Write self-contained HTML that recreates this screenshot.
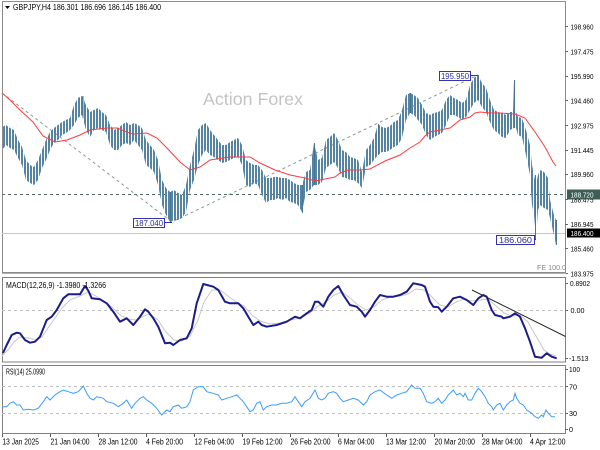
<!DOCTYPE html>
<html><head><meta charset="utf-8"><style>
html,body{margin:0;padding:0;background:#fff;}
svg{display:block;}
text{font-family:"Liberation Sans",sans-serif;}
</style></head><body>
<svg width="600" height="450" viewBox="0 0 600 450" xmlns="http://www.w3.org/2000/svg">
<defs>
<pattern id="bars" width="3" height="4" patternUnits="userSpaceOnUse">
<rect x="0" y="0" width="2" height="4" fill="#5583a2"/>
</pattern>
</defs>
<rect width="600" height="450" fill="#fff"/>

<!-- main panel -->
<rect x="2.5" y="1.5" width="563" height="271" fill="#fff" stroke="#8c8c8c"/>
<text x="203" y="105" font-size="17.5" fill="#c4c4c4" textLength="100" lengthAdjust="spacingAndGlyphs">Action Forex</text>

<!-- zigzag dashed -->
<polyline points="2,93 172,222 478,75" fill="none" stroke="#8a9a92" stroke-width="1" stroke-dasharray="3,3"/>
<!-- level lines -->
<line x1="2" y1="194.5" x2="565" y2="194.5" stroke="#4f6a5f" stroke-dasharray="3,3"/>
<line x1="2" y1="233.5" x2="565" y2="233.5" stroke="#c8c8c8"/>

<!-- price bars -->
<polygon fill="url(#bars)" points="2,127 6,125 10,128 14,130 18,140 22,147 26,160 30,165 34,167 38,160 42,150 46,140 50,132 54,128 58,125 62,122 66,120 70,118 74,105 78,98 82,96 86,105 90,112 94,110 98,108 102,112 106,115 110,125 114,130 118,128 122,125 126,122 130,125 134,123 138,125 142,128 146,140 150,145 154,150 158,160 162,180 166,188 170,192 174,190 178,193 182,195 186,185 190,165 194,150 198,130 202,125 206,123 210,130 214,135 218,140 222,145 226,145 230,142 234,140 238,138 242,145 246,160 250,163 254,165 258,165 262,170 266,178 270,178 274,177 278,177 282,178 286,178 290,180 294,183 298,185 302,185 306,172 310,170 314,143 318,160 322,158 326,140 330,137 334,133 338,140 342,150 346,152 350,157 354,158 358,160 362,172 366,150 370,145 374,138 378,124 382,127 386,128 390,126 394,122 398,120 402,110 406,95 410,93 414,95 418,98 422,105 426,113 430,115 434,113 438,112 442,110 446,100 450,95 454,98 458,100 462,103 466,100 470,85 474,78 478,75 482,83 486,88 490,100 494,110 498,112 502,113 506,115 510,112 513,112 514,80 516,112 518,117 522,118 526,130 530,145 532,165 534,175 536,185 538,175 540,170 544,172 548,178 550,200 554,215 556,220 558,225 558,240 556,245 554,235 550,218 548,210 544,208 540,205 538,210 536,238 534,215 532,205 530,175 526,155 522,137 518,135 516,128 514,128 510,130 506,138 502,137 498,133 494,130 490,122 486,112 482,107 478,100 474,103 470,110 466,117 462,120 458,117 454,115 450,115 446,125 442,133 438,135 434,137 430,140 426,135 422,125 418,120 414,115 410,113 406,120 402,138 398,145 394,147 390,150 386,152 382,152 378,155 374,160 370,165 366,167 362,188 358,183 354,180 350,180 346,178 342,177 338,168 334,162 330,165 326,168 322,182 318,185 314,185 310,190 306,192 302,212 298,205 294,203 290,202 286,198 282,200 278,198 274,200 270,200 266,203 262,195 258,185 254,183 250,187 246,185 242,165 238,157 234,158 230,160 226,162 222,163 218,160 214,157 210,155 206,150 202,155 198,165 194,180 190,190 186,212 182,218 178,220 174,220 170,222 166,215 162,205 158,185 154,172 150,168 146,165 142,150 138,145 134,140 130,145 126,143 122,145 118,150 114,150 110,145 106,132 102,130 98,128 94,130 90,137 86,130 82,115 78,118 74,125 70,130 66,133 62,135 58,140 54,143 50,150 46,160 42,168 38,180 34,185 30,183 26,180 22,165 18,158 14,150 10,148 6,145 2,150"/>
<path d="M83,96V118 M314.5,143V185 M378.5,124V155 M410.5,93V113 M478.5,75V100 M514.5,80V128 M535.5,175V239 M556.5,220V245 M170.5,192V222 M302.5,185V213" stroke="#4a7694" stroke-width="1"/>

<!-- MA -->
<polyline fill="none" stroke="#ff3b3b" stroke-width="1" points="2,93 10,100 20,110 33,122 43,136 55,142 67,140 80,135 90,130 107,128 117,128 127,132 133,134 147,133 157,138 167,148 180,162 190,170 200,167 210,160 230,157 250,157 260,163 275,170 290,175 305,178 315,181 325,179 335,177 340,173 348,170 360,170 370,169 385,161 400,155 410,148 420,142 425,136 430,132 440,130 450,128 460,120 470,117 475,113 480,112 490,113 500,113 515,114 525,118 535,132 545,147 553,162 556,166"/>

<!-- labels -->
<rect x="133.5" y="218.5" width="31" height="9" fill="#fff" stroke="#3434b0"/>
<text x="135" y="226" font-size="8" fill="#2a2aa8" textLength="28" lengthAdjust="spacingAndGlyphs">187.040</text>
<line x1="164" y1="222.5" x2="172" y2="222.5" stroke="#3434b0"/>
<rect x="439.5" y="71.5" width="31" height="9" fill="#fff" stroke="#3434b0"/>
<text x="441" y="79" font-size="8" fill="#2a2aa8" textLength="28" lengthAdjust="spacingAndGlyphs">195.950</text>
<line x1="470" y1="75.5" x2="478" y2="75.5" stroke="#3434b0"/>
<rect x="496.5" y="235.5" width="38" height="9" fill="#fff" stroke="#3434b0"/>
<text x="499" y="243" font-size="8" fill="#2a2aa8" textLength="33" lengthAdjust="spacingAndGlyphs">186.060</text>
<line x1="535" y1="239.5" x2="536" y2="239.5" stroke="#3434b0"/>

<text x="537" y="270" font-size="7.5" fill="#7a8a88" textLength="29" lengthAdjust="spacingAndGlyphs">FE 100.0</text>

<!-- header -->
<path d="M5,6 L10,6 L7.5,9 Z" fill="#000"/>
<text x="13" y="10" font-size="8" fill="#000" textLength="148" lengthAdjust="spacingAndGlyphs">GBPJPY,H4  186.301 186.696 186.145 186.400</text>

<!-- price axis -->
<g stroke="#666" stroke-width="1">
<line x1="565" y1="26.5" x2="568" y2="26.5"/><line x1="565" y1="51.5" x2="568" y2="51.5"/><line x1="565" y1="76.5" x2="568" y2="76.5"/><line x1="565" y1="100.5" x2="568" y2="100.5"/><line x1="565" y1="125.5" x2="568" y2="125.5"/><line x1="565" y1="150.5" x2="568" y2="150.5"/><line x1="565" y1="174.5" x2="568" y2="174.5"/><line x1="565" y1="199.5" x2="568" y2="199.5"/><line x1="565" y1="224.5" x2="568" y2="224.5"/><line x1="565" y1="248.5" x2="568" y2="248.5"/><line x1="565" y1="273.5" x2="568" y2="273.5"/>
</g>
<g font-size="7.5" fill="#000">
<text x="570.5" y="29.5" textLength="23" lengthAdjust="spacingAndGlyphs">198.960</text>
<text x="570.5" y="54.5" textLength="23" lengthAdjust="spacingAndGlyphs">197.475</text>
<text x="570.5" y="79" textLength="23" lengthAdjust="spacingAndGlyphs">195.990</text>
<text x="570.5" y="103.5" textLength="23" lengthAdjust="spacingAndGlyphs">194.460</text>
<text x="570.5" y="128.5" textLength="23" lengthAdjust="spacingAndGlyphs">192.975</text>
<text x="570.5" y="153" textLength="23" lengthAdjust="spacingAndGlyphs">191.445</text>
<text x="570.5" y="177" textLength="23" lengthAdjust="spacingAndGlyphs">189.960</text>
<text x="570.5" y="202.5" textLength="23" lengthAdjust="spacingAndGlyphs">188.475</text>
<text x="570.5" y="227" textLength="23" lengthAdjust="spacingAndGlyphs">186.945</text>
<text x="570.5" y="251.5" textLength="23" lengthAdjust="spacingAndGlyphs">185.460</text>
<text x="570.5" y="276.5" textLength="23" lengthAdjust="spacingAndGlyphs">183.975</text>
</g>
<rect x="567" y="189.5" width="33" height="10" fill="#3e5d56"/>
<text x="570.5" y="197.5" font-size="7.5" fill="#fff" textLength="23" lengthAdjust="spacingAndGlyphs">188.720</text>
<rect x="567" y="228.5" width="33" height="9" fill="#000"/>
<text x="570.5" y="236" font-size="7.5" fill="#fff" textLength="23" lengthAdjust="spacingAndGlyphs">186.400</text>

<!-- MACD panel -->
<line x1="2" y1="273.5" x2="566" y2="273.5" stroke="#b0b0b0"/>
<rect x="2.5" y="277.5" width="563" height="84.5" fill="#fff" stroke="#808080"/>
<line x1="2" y1="310.5" x2="565" y2="310.5" stroke="#c0c0c0" stroke-dasharray="3,3"/>
<polyline fill="none" stroke="#c8c8c8" stroke-width="1" points="2,356 8,350 14,342 20,337 28,338 36,340 42,337 48,328 55,318 62,308 70,300 80,296 88,292 96,296 104,301 112,307 120,315 128,319 136,320 144,316 150,314 158,320 166,332 174,340 182,341 190,336 198,320 204,302 212,290 220,290 228,296 236,302 244,306 252,315 260,321 270,324 280,323 290,320 300,318 310,313 318,306 326,302 334,295 342,292 350,298 358,305 366,310 374,307 382,300 390,297 400,296 408,294 416,289 424,290 432,297 440,305 448,307 456,302 464,299 472,301 480,300 488,299 496,306 504,313 512,316 520,315 528,322 536,336 544,350 550,354 556,356"/>
<polyline fill="none" stroke="#1c1c8c" stroke-width="2" stroke-linejoin="round" points="3,353 6.7,345 11.7,335 16.7,332.7 20,333.3 25,340 30,342.7 35,341.7 40,336.7 46.7,320 51.7,316.7 56.7,310 63.3,298.3 68.3,294.3 80,294.3 85,286 88.3,290.7 91.7,298.3 100,299.3 106.7,303.3 113.3,311.7 120,321.7 126.7,318.3 133.3,325 140,316.7 145,309.3 148.3,311.7 153.3,318.3 158.3,326.7 165,343.3 170,342.7 173.3,345 180,340 186.7,338.3 191.7,328.3 196.7,303.3 203.3,284 213.3,286.7 218.3,290 225,301.7 230,303.3 238.3,303.3 243.3,308.3 248.3,316.7 253.3,325 258.3,321.7 261.7,325 266.7,326.7 276.7,325 286.7,321.7 295,316.7 300,318.3 306.7,313.3 311.7,310 315,301.7 318.3,301.7 323.3,306.7 328.3,296.7 333.3,290 338.3,286 343.3,295 350,305 356.7,306.7 361.7,311.7 365,316.7 370,310 375,301.7 380,295 386.7,296.7 393.3,296.7 400,295 406.7,291.7 413.3,283.3 421.7,285 425,286.7 430,301.7 433.3,306.7 438.3,307.3 441.7,311.7 446.7,306.7 453.3,298.3 460,296.7 466.7,300 473.3,305 478.3,298.3 483.3,295 486.7,296.7 491.7,310 495,315 501.7,316.7 503.3,318.3 510,316.7 515,313.3 520,316.7 525,328.3 530,341.7 535,356.7 541.7,357.7 546.7,353.3 551.7,356.7 556.7,358.3"/>
<line x1="472" y1="290" x2="565.5" y2="336.5" stroke="#2a2a2a" stroke-width="1"/>
<text x="6" y="288" font-size="8" fill="#000" textLength="100" lengthAdjust="spacingAndGlyphs">MACD(12,26,9) -1.3980 -1.3266</text>
<g stroke="#666"><line x1="565" y1="283.5" x2="568" y2="283.5"/><line x1="565" y1="310.5" x2="568" y2="310.5"/><line x1="565" y1="358.5" x2="568" y2="358.5"/></g>
<g font-size="7.5" fill="#000">
<text x="570" y="286" textLength="20" lengthAdjust="spacingAndGlyphs">0.8902</text>
<text x="570.5" y="313" textLength="14" lengthAdjust="spacingAndGlyphs">0.00</text>
<text x="569" y="361" textLength="19.5" lengthAdjust="spacingAndGlyphs">-1.513</text>
</g>

<!-- RSI panel -->
<rect x="2.5" y="365.5" width="563" height="68" fill="#fff" stroke="#808080"/>
<line x1="2" y1="386.5" x2="565" y2="386.5" stroke="#c0c0c0" stroke-dasharray="3,3"/>
<line x1="2" y1="413.5" x2="565" y2="413.5" stroke="#c0c0c0" stroke-dasharray="3,3"/>
<polyline fill="none" stroke="#3a9cff" stroke-width="1" points="3,406.7 6.7,406.7 10,403.3 13.3,401.7 16.7,405 20,405 23.3,410 28.3,409.3 33.3,410 38.3,408.3 43.3,401.7 46.7,396.7 50,400 55,395 60,391.7 63.3,390 68.3,391.7 73.3,393.3 78.3,391.7 83.3,386 86.7,393.3 90,398.3 93.3,400 96.7,396.7 103.3,398.3 106.7,401.7 113.3,403.3 118.3,406.7 123.3,403.3 126.7,400 131.7,408.3 135,403.3 140,398.3 143.3,396.7 146.7,400 151.7,403.3 156.7,408.3 161.7,415 166.7,410 170,411.7 173.3,406.7 178.3,405 181.7,408.3 186.7,406.7 190,401.7 193.3,390 198.3,386.7 203.3,386.7 206.7,391.7 213.3,393.3 218.3,395 221.7,400 226.7,398.3 231.7,396.7 236.7,395 240,398.3 243.3,401.7 246.7,406.7 250,411.7 253.3,410 256.7,403.3 260,401.7 263.3,410 266.7,406.7 271.7,405 276.7,405 281.7,403.3 286.7,403.3 291.7,401.7 295,396.7 298.3,401.7 301.7,406.7 305,401.7 310,398.3 315,390 318.3,398.3 321.7,400 325,398.3 328.3,393.3 333.3,391.7 336.7,393.3 340,398.3 343.3,401.7 348.3,400 353.3,398.3 358.3,400 363.3,405 366.7,401.7 370,395 375,391.7 380,390 386.7,395 391.7,398.3 396.7,395 401.7,393.3 406.7,391.7 411.7,385 415,388.3 420,388.3 423.3,393.3 426.7,401.7 431.7,403.3 435,401.7 438.3,398.3 441.7,403.3 445,400 448.3,395 453.3,390 456.7,395 460,393.3 463.3,396.7 465,393.3 468.3,400 471.7,400 475,393.3 478.3,388.3 481.7,391.7 485,396.7 488.3,403.3 491.7,406.7 493.3,410 496.7,405 500,403.3 503.3,410 506.7,405 510,401.7 513.3,400 515,393.3 516.7,398.3 520,403.3 523.3,405 526.7,410 531.7,413.3 535,416.7 538.3,418.3 541.7,415 543.3,416.7 546,410 548.3,413.3 551.7,416.7 555,416.7"/>
<text x="6" y="374.5" font-size="8" fill="#000" textLength="39" lengthAdjust="spacingAndGlyphs">RSI(14) 25.0990</text>
<g stroke="#666"><line x1="565" y1="369.5" x2="568" y2="369.5"/><line x1="565" y1="386.5" x2="568" y2="386.5"/><line x1="565" y1="413.5" x2="568" y2="413.5"/><line x1="565" y1="429.5" x2="568" y2="429.5"/></g>
<g font-size="7.5" fill="#000">
<text x="569" y="372" textLength="11" lengthAdjust="spacingAndGlyphs">100</text>
<text x="569" y="389.5" textLength="8" lengthAdjust="spacingAndGlyphs">70</text>
<text x="569" y="416" textLength="8" lengthAdjust="spacingAndGlyphs">30</text>
<text x="569" y="432" textLength="4" lengthAdjust="spacingAndGlyphs">0</text>
</g>

<!-- time axis -->
<g stroke="#555"><line x1="2.5" y1="434" x2="2.5" y2="437"/><line x1="50.5" y1="434" x2="50.5" y2="437"/><line x1="98.5" y1="434" x2="98.5" y2="437"/><line x1="146.5" y1="434" x2="146.5" y2="437"/><line x1="194.5" y1="434" x2="194.5" y2="437"/><line x1="242.5" y1="434" x2="242.5" y2="437"/><line x1="290.5" y1="434" x2="290.5" y2="437"/><line x1="338.5" y1="434" x2="338.5" y2="437"/><line x1="386.5" y1="434" x2="386.5" y2="437"/><line x1="434.5" y1="434" x2="434.5" y2="437"/><line x1="482.5" y1="434" x2="482.5" y2="437"/><line x1="530.5" y1="434" x2="530.5" y2="437"/></g>
<g font-size="8" fill="#000">
<text x="2.5" y="444.5" textLength="36.5" lengthAdjust="spacingAndGlyphs">13 Jan 2025</text>
<text x="50.5" y="444.5" textLength="39" lengthAdjust="spacingAndGlyphs">21 Jan 04:00</text>
<text x="98.5" y="444.5" textLength="39" lengthAdjust="spacingAndGlyphs">28 Jan 12:00</text>
<text x="146" y="444.5" textLength="37" lengthAdjust="spacingAndGlyphs">4 Feb 20:00</text>
<text x="194.5" y="444.5" textLength="39.5" lengthAdjust="spacingAndGlyphs">12 Feb 04:00</text>
<text x="242.5" y="444.5" textLength="40" lengthAdjust="spacingAndGlyphs">19 Feb 12:00</text>
<text x="290.5" y="444.5" textLength="40" lengthAdjust="spacingAndGlyphs">26 Feb 20:00</text>
<text x="338" y="444.5" textLength="36.5" lengthAdjust="spacingAndGlyphs">6 Mar 04:00</text>
<text x="386" y="444.5" textLength="40" lengthAdjust="spacingAndGlyphs">13 Mar 12:00</text>
<text x="434.5" y="444.5" textLength="40.5" lengthAdjust="spacingAndGlyphs">20 Mar 20:00</text>
<text x="482" y="444.5" textLength="40.5" lengthAdjust="spacingAndGlyphs">28 Mar 04:00</text>
<text x="530" y="444.5" textLength="35.5" lengthAdjust="spacingAndGlyphs">4 Apr 12:00</text>
</g>
</svg>
</body></html>
